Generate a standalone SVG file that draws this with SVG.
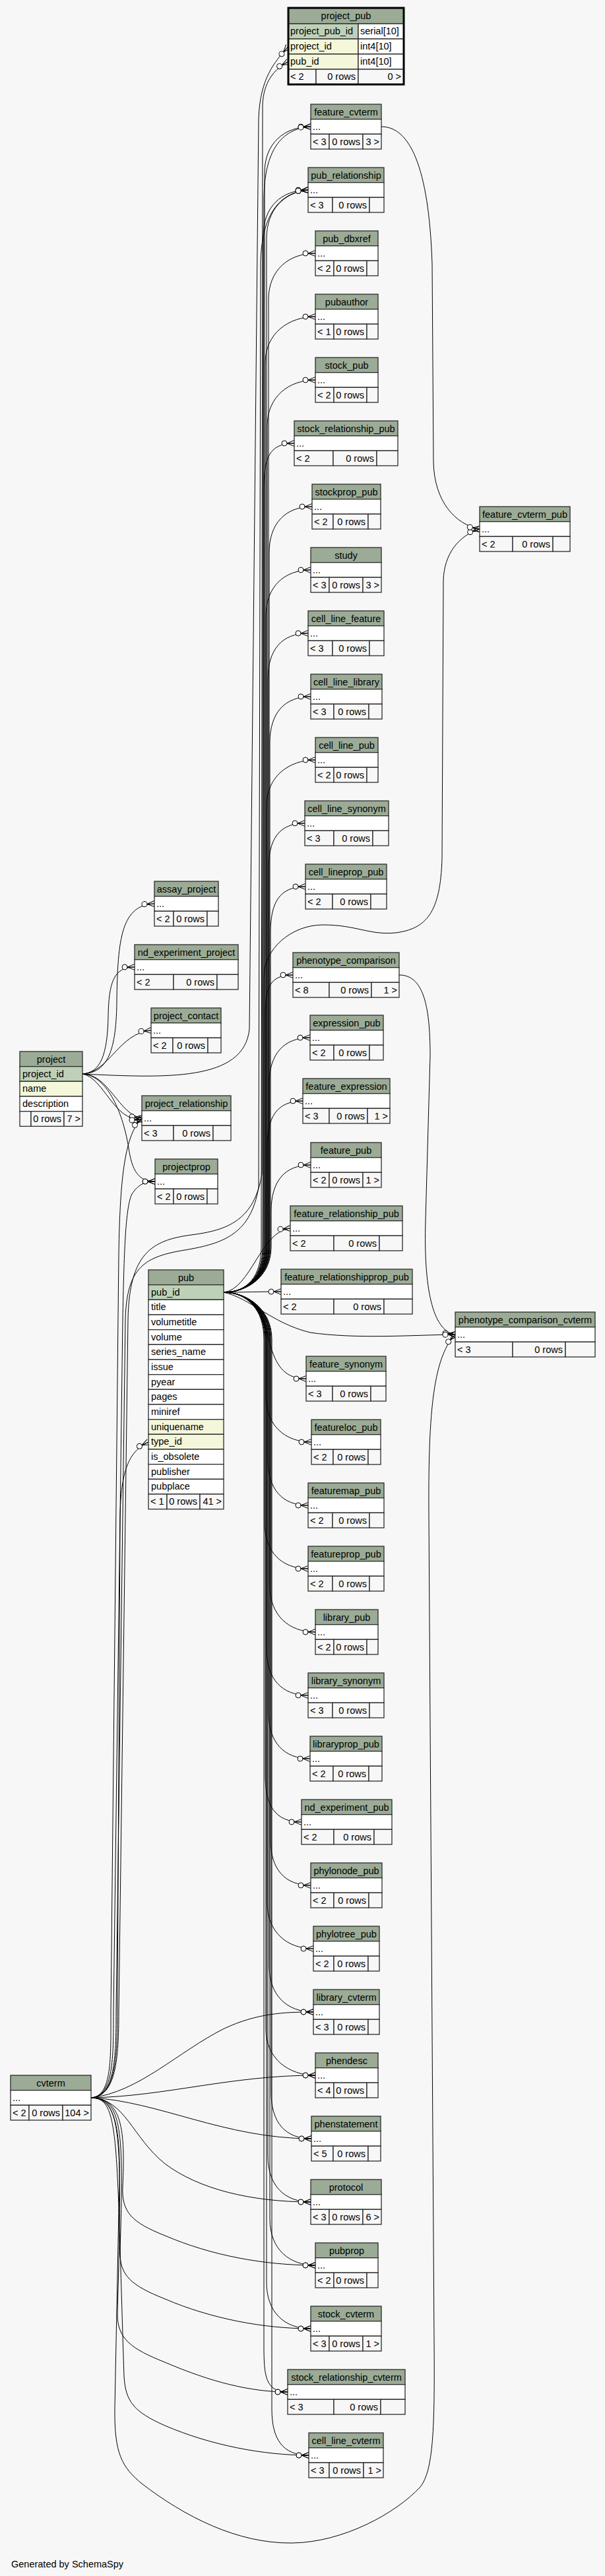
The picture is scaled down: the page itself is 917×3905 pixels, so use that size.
<svg xmlns="http://www.w3.org/2000/svg" width="917" height="3905" viewBox="0 0 917 3905">
<style>
.h{fill:#9bab96;stroke:#2b2b2b;stroke-width:1.3}
.r{fill:#fff;stroke:#2b2b2b;stroke-width:1.3}
.k{fill:#bed1b8;stroke:#2b2b2b;stroke-width:1.3}
.i{fill:#f4f7da;stroke:#2b2b2b;stroke-width:1.3}
.f{fill:#f7f7f7;stroke:#2b2b2b;stroke-width:1.3}
text{font-family:"Liberation Sans",Arial,Helvetica,sans-serif;font-size:14.5px;fill:#000}
.c{text-anchor:middle}
.e{text-anchor:end}
#connectors path{fill:none;stroke:#000;stroke-width:1;marker-end:url(#cf)}
</style>
<defs>
<marker id="cf" markerUnits="userSpaceOnUse" markerWidth="20" markerHeight="12" refX="20" refY="6" orient="auto" overflow="visible">
<path d="M9,6 L20,1.5 M9,6 L20,6 M9,6 L20,10.5" stroke="#000" stroke-width="1" fill="none"/>
<circle cx="5" cy="6" r="4" fill="#fff" stroke="#000" stroke-width="1"/>
</marker>
</defs>
<rect x="0" y="0" width="917" height="3905" fill="#f7f7f7"/>
<g id="connectors">
<path d="M339,1959 C375,1959 396,1935 396,1890 L398,160 C399,125 415,105 437,93.5"/>
<path d="M125,1628 C250,1634 370,1640 378,1560 L392,180 C394,120 415,95 437,70.5"/>
<path d="M339,1959 C375,1959 401,1935 401,1890 L401,262 C401,217 431,192 471,192"/>
<path d="M339,1959 C375,1959 399,1935 399,1890 L399,358 C399,313 427,288 467,288"/>
<path d="M339,1959 C375,1959 404,1935 404,1890 L404,362 C404,318 430,292 467,288"/>
<path d="M339,1959 C375,1959 407,1935 407,1890 L407,454 C407,409 438,384 478,384"/>
<path d="M339,1959 C375,1959 402,1935 402,1890 L402,550 C402,505 438,480 478,480"/>
<path d="M339,1959 C375,1959 405,1935 405,1890 L405,646 C405,601 438,576 478,576"/>
<path d="M339,1959 C375,1959 400,1935 400,1890 L400,742 C400,697 406,672 446,672"/>
<path d="M339,1959 C375,1959 408,1935 408,1890 L408,838 C408,793 433,768 473,768"/>
<path d="M339,1959 C375,1959 403,1935 403,1890 L403,934 C403,889 431,864 471,864"/>
<path d="M339,1959 C375,1959 406,1935 406,1890 L406,1030 C406,985 427,960 467,960"/>
<path d="M339,1959 C375,1959 409,1935 409,1890 L409,1126 C409,1081 431,1056 471,1056"/>
<path d="M339,1959 C375,1959 404,1935 404,1890 L404,1222 C404,1177 438,1152 478,1152"/>
<path d="M339,1959 C375,1959 407,1935 407,1890 L407,1318 C407,1273 422,1248 462,1248"/>
<path d="M339,1959 C375,1959 410,1935 410,1890 L410,1414 C410,1369 423,1344 463,1344"/>
<path d="M339,1959 C375,1959 402,1935 402,1890 L402,1548 C402,1503 404,1478 444,1478"/>
<path d="M339,1959 C375,1959 408,1935 408,1890 L408,1643 C408,1598 430,1573 470,1573"/>
<path d="M339,1959 C375,1959 405,1935 405,1890 L405,1739 C405,1694 419,1669 459,1669"/>
<path d="M339,1959 C375,1959 411,1935 411,1890 L411,1836 C411,1791 431,1766 471,1766"/>
<path d="M339,1959 C380,1955 395,1866 440,1862"/>
<path d="M339,1959 C370,1959 395,1958 426,1958"/>
<path d="M339,1959 C385,1959 400,2000 410,2040 C420,2075 435,2090 464,2090"/>
<path d="M339,1959 C375,1959 403,1985 403,2030 L403,2116 C403,2161 432,2186 472,2186"/>
<path d="M339,1959 C375,1959 406,1985 406,2030 L406,2212 C406,2257 427,2282 467,2282"/>
<path d="M339,1959 C375,1959 401,1985 401,2030 L401,2308 C401,2353 427,2378 467,2378"/>
<path d="M339,1959 C375,1959 409,1985 409,2030 L409,2404 C409,2449 438,2474 478,2474"/>
<path d="M339,1959 C375,1959 404,1985 404,2030 L404,2500 C404,2545 427,2570 467,2570"/>
<path d="M339,1959 C375,1959 407,1985 407,2030 L407,2596 C407,2641 430,2666 470,2666"/>
<path d="M339,1959 C375,1959 402,1985 402,2030 L402,2692 C402,2737 417,2762 457,2762"/>
<path d="M339,1959 C375,1959 410,1985 410,2030 L410,2788 C410,2833 431,2858 471,2858"/>
<path d="M339,1959 C375,1959 405,1985 405,2030 L405,2884 C405,2929 435,2954 475,2954"/>
<path d="M339,1959 C375,1959 408,1985 408,2030 L408,2980 C408,3025 435,3050 475,3050"/>
<path d="M339,1959 C375,1959 403,1985 403,2030 L403,3076 C403,3121 438,3146 478,3146"/>
<path d="M339,1959 C375,1959 411,1985 411,2030 L411,3172 C411,3217 432,3242 472,3242"/>
<path d="M339,1959 C375,1959 406,1985 406,2030 L406,3268 C406,3313 431,3338 471,3338"/>
<path d="M339,1959 C375,1959 409,1985 409,2030 L409,3364 C409,3409 438,3434 478,3434"/>
<path d="M339,1959 C375,1959 404,1985 404,2030 L404,3460 C404,3505 431,3530 471,3530"/>
<path d="M339,1959 C375,1959 400,1985 400,2030 L400,3556 C400,3601 402,3626 436,3626"/>
<path d="M339,1959 C375,1959 412,1985 412,2030 L412,3652 C412,3697 428,3722 468,3722"/>
<path d="M339,1959 C375,1959 398,1935 398,1890 L400,1480 C400,1440 440,1402 490,1402 C540,1402 560,1418 600,1414 C645,1408 668,1385 670,1300 L672,880 C673,840 695,812 727,802"/>
<path d="M578,192 C620,192 650,250 655,400 L657,700 C658,760 690,795 727,802"/>
<path d="M605,1478 C640,1478 652,1520 652,1600 L645,1850 C642,1950 655,2018 690,2023"/>
<path d="M339,1959 C380,1968 410,2005 470,2020 C540,2030 620,2024 690,2023"/>
<path d="M138,3180 C180,3180 184,3240 180,3350 L174,3650 C173,3720 185,3740 215,3765 C280,3815 360,3856 443,3855 C520,3854 600,3810 637,3770 C657,3745 659,3680 658,3550 L650,2300 C649,2150 655,2060 690,2023"/>
<path d="M138,3180 C210,3172 270,3110 340,3075 C390,3052 430,3050 475,3050"/>
<path d="M138,3180 C250,3178 350,3146 478,3146"/>
<path d="M138,3180 C240,3185 340,3242 472,3242"/>
<path d="M138,3180 C190,3182 200,3240 250,3280 C300,3318 380,3338 471,3338"/>
<path d="M138,3180 C185,3180 190,3230 186,3314 C184,3354 200,3369 250,3389 C320,3419 400,3434 478,3434"/>
<path d="M138,3180 C185,3180 188,3230 182,3410 C180,3450 200,3465 250,3485 C320,3515 400,3530 471,3530"/>
<path d="M138,3180 C183,3180 186,3230 178,3506 C177,3546 200,3561 250,3581 C320,3611 380,3626 436,3626"/>
<path d="M138,3180 C182,3180 176,3240 188,3602 C190,3642 205,3657 250,3677 C320,3707 400,3722 468,3722"/>
<path d="M138,3180 C175,3178 178,3120 178,3050 L182,2300 C183,2230 195,2200 225,2186"/>
<path d="M138,3180 C172,3178 172,3120 172,3050 L186,2000 C188,1900 190,1830 200,1810 C210,1795 220,1791 235,1791"/>
<path d="M138,3180 C170,3178 168,3120 168,3050 L180,1900 C182,1780 190,1720 215,1695"/>
<path d="M138,3180 C174,3178 176,3120 176,3050 L190,2000 C192,1920 220,1905 280,1895 C340,1885 380,1870 392,1800 L395,400 C396,330 420,292 467,288"/>
<path d="M138,3180 C176,3178 180,3120 180,3050 L194,2000 C196,1900 230,1880 290,1872 C345,1865 385,1850 397,1780 L400,300 C401,230 425,195 471,192"/>
<path d="M125,1628 C160,1626 176,1600 177,1520 C178,1420 185,1372 234,1370"/>
<path d="M125,1628 C152,1626 163,1600 164,1540 C165,1490 172,1466 204,1466"/>
<path d="M125,1628 C165,1626 180,1566 229,1562"/>
<path d="M125,1628 C165,1628 180,1690 215,1695"/>
<path d="M125,1628 C158,1634 172,1700 215,1697"/>
<path d="M125,1628 C160,1630 185,1680 195,1740 C200,1775 210,1791 235,1791"/>
</g>
<g id="project_pub">
<rect class="h" x="437" y="12" width="175" height="24"/><text class="c" x="524.5" y="29">project_pub</text>
<rect class="k" x="437" y="36" width="106" height="23"/><rect class="r" x="543" y="36" width="69" height="23"/>
<text x="440" y="52">project_pub_id</text><text x="546" y="52">serial[10]</text>
<rect class="i" x="437" y="59" width="106" height="23"/><rect class="r" x="543" y="59" width="69" height="23"/>
<text x="440" y="75">project_id</text><text x="546" y="75">int4[10]</text>
<rect class="i" x="437" y="82" width="106" height="23"/><rect class="r" x="543" y="82" width="69" height="23"/>
<text x="440" y="98">pub_id</text><text x="546" y="98">int4[10]</text>
<rect class="f" x="437" y="105" width="42" height="23"/><rect class="f" x="479" y="105" width="64" height="23"/><rect class="f" x="543" y="105" width="69" height="23"/>
<text x="440" y="121">&lt; 2</text><text class="e" x="539" y="121">0 rows</text><text class="e" x="608" y="121">0 &gt;</text>
<rect x="437" y="12" width="175" height="116" fill="none" stroke="#000" stroke-width="3"/>
</g>
<g id="feature_cvterm"><rect class="h" x="471" y="158" width="107" height="22.7"/><text class="c" x="524.5" y="174.5">feature_cvterm</text><rect class="r" x="471" y="180.7" width="107" height="22.6"/><text x="474" y="197">...</text><rect class="f" x="471" y="203.3" width="28" height="22.7"/><rect class="f" x="499" y="203.3" width="51" height="22.7"/><rect class="f" x="550" y="203.3" width="28" height="22.7"/><text x="474" y="220">&lt; 3</text><text class="e" x="546" y="220">0 rows</text><text class="e" x="575" y="220">3 &gt;</text></g>
<g id="pub_relationship"><rect class="h" x="467" y="254" width="115" height="22.7"/><text class="c" x="524.5" y="270.5">pub_relationship</text><rect class="r" x="467" y="276.7" width="115" height="22.6"/><text x="470" y="293">...</text><rect class="f" x="467" y="299.3" width="37" height="22.7"/><rect class="f" x="504" y="299.3" width="56" height="22.7"/><rect class="f" x="560" y="299.3" width="22" height="22.7"/><text x="470" y="316">&lt; 3</text><text class="e" x="556" y="316">0 rows</text></g>
<g id="pub_dbxref"><rect class="h" x="478" y="350" width="95" height="22.7"/><text class="c" x="525.5" y="366.5">pub_dbxref</text><rect class="r" x="478" y="372.7" width="95" height="22.6"/><text x="481" y="389">...</text><rect class="f" x="478" y="395.3" width="28" height="22.7"/><rect class="f" x="506" y="395.3" width="50" height="22.7"/><rect class="f" x="556" y="395.3" width="17" height="22.7"/><text x="481" y="412">&lt; 2</text><text class="e" x="552" y="412">0 rows</text></g>
<g id="pubauthor"><rect class="h" x="478" y="446" width="95" height="22.7"/><text class="c" x="525.5" y="462.5">pubauthor</text><rect class="r" x="478" y="468.7" width="95" height="22.6"/><text x="481" y="485">...</text><rect class="f" x="478" y="491.3" width="28" height="22.7"/><rect class="f" x="506" y="491.3" width="50" height="22.7"/><rect class="f" x="556" y="491.3" width="17" height="22.7"/><text x="481" y="508">&lt; 1</text><text class="e" x="552" y="508">0 rows</text></g>
<g id="stock_pub"><rect class="h" x="478" y="542" width="95" height="22.7"/><text class="c" x="525.5" y="558.5">stock_pub</text><rect class="r" x="478" y="564.7" width="95" height="22.6"/><text x="481" y="581">...</text><rect class="f" x="478" y="587.3" width="28" height="22.7"/><rect class="f" x="506" y="587.3" width="50" height="22.7"/><rect class="f" x="556" y="587.3" width="17" height="22.7"/><text x="481" y="604">&lt; 2</text><text class="e" x="552" y="604">0 rows</text></g>
<g id="stock_relationship_pub"><rect class="h" x="446" y="638" width="157" height="22.7"/><text class="c" x="524.5" y="654.5">stock_relationship_pub</text><rect class="r" x="446" y="660.7" width="157" height="22.6"/><text x="449" y="677">...</text><rect class="f" x="446" y="683.3" width="59" height="22.7"/><rect class="f" x="505" y="683.3" width="66" height="22.7"/><rect class="f" x="571" y="683.3" width="32" height="22.7"/><text x="449" y="700">&lt; 2</text><text class="e" x="567" y="700">0 rows</text></g>
<g id="stockprop_pub"><rect class="h" x="473" y="734" width="104" height="22.7"/><text class="c" x="525" y="750.5">stockprop_pub</text><rect class="r" x="473" y="756.7" width="104" height="22.6"/><text x="476" y="773">...</text><rect class="f" x="473" y="779.3" width="32" height="22.7"/><rect class="f" x="505" y="779.3" width="53" height="22.7"/><rect class="f" x="558" y="779.3" width="19" height="22.7"/><text x="476" y="796">&lt; 2</text><text class="e" x="554" y="796">0 rows</text></g>
<g id="study"><rect class="h" x="471" y="830" width="107" height="22.7"/><text class="c" x="524.5" y="846.5">study</text><rect class="r" x="471" y="852.7" width="107" height="22.6"/><text x="474" y="869">...</text><rect class="f" x="471" y="875.3" width="28" height="22.7"/><rect class="f" x="499" y="875.3" width="51" height="22.7"/><rect class="f" x="550" y="875.3" width="28" height="22.7"/><text x="474" y="892">&lt; 3</text><text class="e" x="546" y="892">0 rows</text><text class="e" x="575" y="892">3 &gt;</text></g>
<g id="cell_line_feature"><rect class="h" x="467" y="926" width="115" height="22.7"/><text class="c" x="524.5" y="942.5">cell_line_feature</text><rect class="r" x="467" y="948.7" width="115" height="22.6"/><text x="470" y="965">...</text><rect class="f" x="467" y="971.3" width="37" height="22.7"/><rect class="f" x="504" y="971.3" width="56" height="22.7"/><rect class="f" x="560" y="971.3" width="22" height="22.7"/><text x="470" y="988">&lt; 3</text><text class="e" x="556" y="988">0 rows</text></g>
<g id="cell_line_library"><rect class="h" x="471" y="1022" width="108" height="22.7"/><text class="c" x="525" y="1038.5">cell_line_library</text><rect class="r" x="471" y="1044.7" width="108" height="22.6"/><text x="474" y="1061">...</text><rect class="f" x="471" y="1067.3" width="35" height="22.7"/><rect class="f" x="506" y="1067.3" width="53" height="22.7"/><rect class="f" x="559" y="1067.3" width="20" height="22.7"/><text x="474" y="1084">&lt; 3</text><text class="e" x="555" y="1084">0 rows</text></g>
<g id="cell_line_pub"><rect class="h" x="478" y="1118" width="95" height="22.7"/><text class="c" x="525.5" y="1134.5">cell_line_pub</text><rect class="r" x="478" y="1140.7" width="95" height="22.6"/><text x="481" y="1157">...</text><rect class="f" x="478" y="1163.3" width="28" height="22.7"/><rect class="f" x="506" y="1163.3" width="50" height="22.7"/><rect class="f" x="556" y="1163.3" width="17" height="22.7"/><text x="481" y="1180">&lt; 2</text><text class="e" x="552" y="1180">0 rows</text></g>
<g id="cell_line_synonym"><rect class="h" x="462" y="1214" width="127" height="22.7"/><text class="c" x="525.5" y="1230.5">cell_line_synonym</text><rect class="r" x="462" y="1236.7" width="127" height="22.6"/><text x="465" y="1253">...</text><rect class="f" x="462" y="1259.3" width="44" height="22.7"/><rect class="f" x="506" y="1259.3" width="59" height="22.7"/><rect class="f" x="565" y="1259.3" width="24" height="22.7"/><text x="465" y="1276">&lt; 3</text><text class="e" x="561" y="1276">0 rows</text></g>
<g id="cell_lineprop_pub"><rect class="h" x="463" y="1310" width="123" height="22.7"/><text class="c" x="524.5" y="1326.5">cell_lineprop_pub</text><rect class="r" x="463" y="1332.7" width="123" height="22.6"/><text x="466" y="1349">...</text><rect class="f" x="463" y="1355.3" width="41" height="22.7"/><rect class="f" x="504" y="1355.3" width="58" height="22.7"/><rect class="f" x="562" y="1355.3" width="24" height="22.7"/><text x="466" y="1372">&lt; 2</text><text class="e" x="558" y="1372">0 rows</text></g>
<g id="phenotype_comparison"><rect class="h" x="444" y="1444" width="161" height="22.7"/><text class="c" x="524.5" y="1460.5">phenotype_comparison</text><rect class="r" x="444" y="1466.7" width="161" height="22.6"/><text x="447" y="1483">...</text><rect class="f" x="444" y="1489.3" width="55" height="22.7"/><rect class="f" x="499" y="1489.3" width="64" height="22.7"/><rect class="f" x="563" y="1489.3" width="42" height="22.7"/><text x="447" y="1506">&lt; 8</text><text class="e" x="559" y="1506">0 rows</text><text class="e" x="602" y="1506">1 &gt;</text></g>
<g id="expression_pub"><rect class="h" x="470" y="1539" width="111" height="22.7"/><text class="c" x="525.5" y="1555.5">expression_pub</text><rect class="r" x="470" y="1561.7" width="111" height="22.6"/><text x="473" y="1578">...</text><rect class="f" x="470" y="1584.3" width="36" height="22.7"/><rect class="f" x="506" y="1584.3" width="54" height="22.7"/><rect class="f" x="560" y="1584.3" width="21" height="22.7"/><text x="473" y="1601">&lt; 2</text><text class="e" x="556" y="1601">0 rows</text></g>
<g id="feature_expression"><rect class="h" x="459" y="1635" width="132" height="22.7"/><text class="c" x="525" y="1651.5">feature_expression</text><rect class="r" x="459" y="1657.7" width="132" height="22.6"/><text x="462" y="1674">...</text><rect class="f" x="459" y="1680.3" width="40" height="22.7"/><rect class="f" x="499" y="1680.3" width="58" height="22.7"/><rect class="f" x="557" y="1680.3" width="34" height="22.7"/><text x="462" y="1697">&lt; 3</text><text class="e" x="553" y="1697">0 rows</text><text class="e" x="588" y="1697">1 &gt;</text></g>
<g id="feature_pub"><rect class="h" x="471" y="1732" width="107" height="22.7"/><text class="c" x="524.5" y="1748.5">feature_pub</text><rect class="r" x="471" y="1754.7" width="107" height="22.6"/><text x="474" y="1771">...</text><rect class="f" x="471" y="1777.3" width="28" height="22.7"/><rect class="f" x="499" y="1777.3" width="51" height="22.7"/><rect class="f" x="550" y="1777.3" width="28" height="22.7"/><text x="474" y="1794">&lt; 2</text><text class="e" x="546" y="1794">0 rows</text><text class="e" x="575" y="1794">1 &gt;</text></g>
<g id="feature_relationship_pub"><rect class="h" x="440" y="1828" width="170" height="22.7"/><text class="c" x="525" y="1844.5">feature_relationship_pub</text><rect class="r" x="440" y="1850.7" width="170" height="22.6"/><text x="443" y="1867">...</text><rect class="f" x="440" y="1873.3" width="66" height="22.7"/><rect class="f" x="506" y="1873.3" width="69" height="22.7"/><rect class="f" x="575" y="1873.3" width="35" height="22.7"/><text x="443" y="1890">&lt; 2</text><text class="e" x="571" y="1890">0 rows</text></g>
<g id="feature_relationshipprop_pub"><rect class="h" x="426" y="1924" width="199" height="22.7"/><text class="c" x="525.5" y="1940.5">feature_relationshipprop_pub</text><rect class="r" x="426" y="1946.7" width="199" height="22.6"/><text x="429" y="1963">...</text><rect class="f" x="426" y="1969.3" width="80" height="22.7"/><rect class="f" x="506" y="1969.3" width="76" height="22.7"/><rect class="f" x="582" y="1969.3" width="43" height="22.7"/><text x="429" y="1986">&lt; 2</text><text class="e" x="578" y="1986">0 rows</text></g>
<g id="feature_synonym"><rect class="h" x="464" y="2056" width="121" height="22.7"/><text class="c" x="524.5" y="2072.5">feature_synonym</text><rect class="r" x="464" y="2078.7" width="121" height="22.6"/><text x="467" y="2095">...</text><rect class="f" x="464" y="2101.3" width="40" height="22.7"/><rect class="f" x="504" y="2101.3" width="58" height="22.7"/><rect class="f" x="562" y="2101.3" width="23" height="22.7"/><text x="467" y="2118">&lt; 3</text><text class="e" x="558" y="2118">0 rows</text></g>
<g id="featureloc_pub"><rect class="h" x="472" y="2152" width="105" height="22.7"/><text class="c" x="524.5" y="2168.5">featureloc_pub</text><rect class="r" x="472" y="2174.7" width="105" height="22.6"/><text x="475" y="2191">...</text><rect class="f" x="472" y="2197.3" width="33" height="22.7"/><rect class="f" x="505" y="2197.3" width="53" height="22.7"/><rect class="f" x="558" y="2197.3" width="19" height="22.7"/><text x="475" y="2214">&lt; 2</text><text class="e" x="554" y="2214">0 rows</text></g>
<g id="featuremap_pub"><rect class="h" x="467" y="2248" width="115" height="22.7"/><text class="c" x="524.5" y="2264.5">featuremap_pub</text><rect class="r" x="467" y="2270.7" width="115" height="22.6"/><text x="470" y="2287">...</text><rect class="f" x="467" y="2293.3" width="37" height="22.7"/><rect class="f" x="504" y="2293.3" width="56" height="22.7"/><rect class="f" x="560" y="2293.3" width="22" height="22.7"/><text x="470" y="2310">&lt; 2</text><text class="e" x="556" y="2310">0 rows</text></g>
<g id="featureprop_pub"><rect class="h" x="467" y="2344" width="115" height="22.7"/><text class="c" x="524.5" y="2360.5">featureprop_pub</text><rect class="r" x="467" y="2366.7" width="115" height="22.6"/><text x="470" y="2383">...</text><rect class="f" x="467" y="2389.3" width="37" height="22.7"/><rect class="f" x="504" y="2389.3" width="56" height="22.7"/><rect class="f" x="560" y="2389.3" width="22" height="22.7"/><text x="470" y="2406">&lt; 2</text><text class="e" x="556" y="2406">0 rows</text></g>
<g id="library_pub"><rect class="h" x="478" y="2440" width="95" height="22.7"/><text class="c" x="525.5" y="2456.5">library_pub</text><rect class="r" x="478" y="2462.7" width="95" height="22.6"/><text x="481" y="2479">...</text><rect class="f" x="478" y="2485.3" width="28" height="22.7"/><rect class="f" x="506" y="2485.3" width="50" height="22.7"/><rect class="f" x="556" y="2485.3" width="17" height="22.7"/><text x="481" y="2502">&lt; 2</text><text class="e" x="552" y="2502">0 rows</text></g>
<g id="library_synonym"><rect class="h" x="467" y="2536" width="115" height="22.7"/><text class="c" x="524.5" y="2552.5">library_synonym</text><rect class="r" x="467" y="2558.7" width="115" height="22.6"/><text x="470" y="2575">...</text><rect class="f" x="467" y="2581.3" width="37" height="22.7"/><rect class="f" x="504" y="2581.3" width="56" height="22.7"/><rect class="f" x="560" y="2581.3" width="22" height="22.7"/><text x="470" y="2598">&lt; 3</text><text class="e" x="556" y="2598">0 rows</text></g>
<g id="libraryprop_pub"><rect class="h" x="470" y="2632" width="109" height="22.7"/><text class="c" x="524.5" y="2648.5">libraryprop_pub</text><rect class="r" x="470" y="2654.7" width="109" height="22.6"/><text x="473" y="2671">...</text><rect class="f" x="470" y="2677.3" width="35" height="22.7"/><rect class="f" x="505" y="2677.3" width="54" height="22.7"/><rect class="f" x="559" y="2677.3" width="20" height="22.7"/><text x="473" y="2694">&lt; 2</text><text class="e" x="555" y="2694">0 rows</text></g>
<g id="nd_experiment_pub"><rect class="h" x="457" y="2728" width="137" height="22.7"/><text class="c" x="525.5" y="2744.5">nd_experiment_pub</text><rect class="r" x="457" y="2750.7" width="137" height="22.6"/><text x="460" y="2767">...</text><rect class="f" x="457" y="2773.3" width="49" height="22.7"/><rect class="f" x="506" y="2773.3" width="61" height="22.7"/><rect class="f" x="567" y="2773.3" width="27" height="22.7"/><text x="460" y="2790">&lt; 2</text><text class="e" x="563" y="2790">0 rows</text></g>
<g id="phylonode_pub"><rect class="h" x="471" y="2824" width="108" height="22.7"/><text class="c" x="525" y="2840.5">phylonode_pub</text><rect class="r" x="471" y="2846.7" width="108" height="22.6"/><text x="474" y="2863">...</text><rect class="f" x="471" y="2869.3" width="35" height="22.7"/><rect class="f" x="506" y="2869.3" width="53" height="22.7"/><rect class="f" x="559" y="2869.3" width="20" height="22.7"/><text x="474" y="2886">&lt; 2</text><text class="e" x="555" y="2886">0 rows</text></g>
<g id="phylotree_pub"><rect class="h" x="475" y="2920" width="100" height="22.7"/><text class="c" x="525" y="2936.5">phylotree_pub</text><rect class="r" x="475" y="2942.7" width="100" height="22.6"/><text x="478" y="2959">...</text><rect class="f" x="475" y="2965.3" width="31" height="22.7"/><rect class="f" x="506" y="2965.3" width="52" height="22.7"/><rect class="f" x="558" y="2965.3" width="17" height="22.7"/><text x="478" y="2982">&lt; 2</text><text class="e" x="554" y="2982">0 rows</text></g>
<g id="library_cvterm"><rect class="h" x="475" y="3016" width="100" height="22.7"/><text class="c" x="525" y="3032.5">library_cvterm</text><rect class="r" x="475" y="3038.7" width="100" height="22.6"/><text x="478" y="3055">...</text><rect class="f" x="475" y="3061.3" width="31" height="22.7"/><rect class="f" x="506" y="3061.3" width="52" height="22.7"/><rect class="f" x="558" y="3061.3" width="17" height="22.7"/><text x="478" y="3078">&lt; 3</text><text class="e" x="554" y="3078">0 rows</text></g>
<g id="phendesc"><rect class="h" x="478" y="3112" width="95" height="22.7"/><text class="c" x="525.5" y="3128.5">phendesc</text><rect class="r" x="478" y="3134.7" width="95" height="22.6"/><text x="481" y="3151">...</text><rect class="f" x="478" y="3157.3" width="28" height="22.7"/><rect class="f" x="506" y="3157.3" width="50" height="22.7"/><rect class="f" x="556" y="3157.3" width="17" height="22.7"/><text x="481" y="3174">&lt; 4</text><text class="e" x="552" y="3174">0 rows</text></g>
<g id="phenstatement"><rect class="h" x="472" y="3208" width="105" height="22.7"/><text class="c" x="524.5" y="3224.5">phenstatement</text><rect class="r" x="472" y="3230.7" width="105" height="22.6"/><text x="475" y="3247">...</text><rect class="f" x="472" y="3253.3" width="33" height="22.7"/><rect class="f" x="505" y="3253.3" width="53" height="22.7"/><rect class="f" x="558" y="3253.3" width="19" height="22.7"/><text x="475" y="3270">&lt; 5</text><text class="e" x="554" y="3270">0 rows</text></g>
<g id="protocol"><rect class="h" x="471" y="3304" width="107" height="22.7"/><text class="c" x="524.5" y="3320.5">protocol</text><rect class="r" x="471" y="3326.7" width="107" height="22.6"/><text x="474" y="3343">...</text><rect class="f" x="471" y="3349.3" width="28" height="22.7"/><rect class="f" x="499" y="3349.3" width="51" height="22.7"/><rect class="f" x="550" y="3349.3" width="28" height="22.7"/><text x="474" y="3366">&lt; 3</text><text class="e" x="546" y="3366">0 rows</text><text class="e" x="575" y="3366">6 &gt;</text></g>
<g id="pubprop"><rect class="h" x="478" y="3400" width="95" height="22.7"/><text class="c" x="525.5" y="3416.5">pubprop</text><rect class="r" x="478" y="3422.7" width="95" height="22.6"/><text x="481" y="3439">...</text><rect class="f" x="478" y="3445.3" width="28" height="22.7"/><rect class="f" x="506" y="3445.3" width="50" height="22.7"/><rect class="f" x="556" y="3445.3" width="17" height="22.7"/><text x="481" y="3462">&lt; 2</text><text class="e" x="552" y="3462">0 rows</text></g>
<g id="stock_cvterm"><rect class="h" x="471" y="3496" width="107" height="22.7"/><text class="c" x="524.5" y="3512.5">stock_cvterm</text><rect class="r" x="471" y="3518.7" width="107" height="22.6"/><text x="474" y="3535">...</text><rect class="f" x="471" y="3541.3" width="28" height="22.7"/><rect class="f" x="499" y="3541.3" width="51" height="22.7"/><rect class="f" x="550" y="3541.3" width="28" height="22.7"/><text x="474" y="3558">&lt; 3</text><text class="e" x="546" y="3558">0 rows</text><text class="e" x="575" y="3558">1 &gt;</text></g>
<g id="stock_relationship_cvterm"><rect class="h" x="436" y="3592" width="178" height="22.7"/><text class="c" x="525" y="3608.5">stock_relationship_cvterm</text><rect class="r" x="436" y="3614.7" width="178" height="22.6"/><text x="439" y="3631">...</text><rect class="f" x="436" y="3637.3" width="70" height="22.7"/><rect class="f" x="506" y="3637.3" width="71" height="22.7"/><rect class="f" x="577" y="3637.3" width="37" height="22.7"/><text x="439" y="3654">&lt; 3</text><text class="e" x="573" y="3654">0 rows</text></g>
<g id="cell_line_cvterm"><rect class="h" x="468" y="3688" width="113" height="22.7"/><text class="c" x="524.5" y="3704.5">cell_line_cvterm</text><rect class="r" x="468" y="3710.7" width="113" height="22.6"/><text x="471" y="3727">...</text><rect class="f" x="468" y="3733.3" width="31" height="22.7"/><rect class="f" x="499" y="3733.3" width="52" height="22.7"/><rect class="f" x="551" y="3733.3" width="30" height="22.7"/><text x="471" y="3750">&lt; 3</text><text class="e" x="547" y="3750">0 rows</text><text class="e" x="578" y="3750">1 &gt;</text></g>
<g id="assay_project"><rect class="h" x="234" y="1336" width="97" height="22.7"/><text class="c" x="282.5" y="1352.5">assay_project</text><rect class="r" x="234" y="1358.7" width="97" height="22.6"/><text x="237" y="1375">...</text><rect class="f" x="234" y="1381.3" width="29" height="22.7"/><rect class="f" x="263" y="1381.3" width="51" height="22.7"/><rect class="f" x="314" y="1381.3" width="17" height="22.7"/><text x="237" y="1398">&lt; 2</text><text class="e" x="310" y="1398">0 rows</text></g>
<g id="nd_experiment_project"><rect class="h" x="204" y="1432" width="157" height="22.7"/><text class="c" x="282.5" y="1448.5">nd_experiment_project</text><rect class="r" x="204" y="1454.7" width="157" height="22.6"/><text x="207" y="1471">...</text><rect class="f" x="204" y="1477.3" width="59" height="22.7"/><rect class="f" x="263" y="1477.3" width="66" height="22.7"/><rect class="f" x="329" y="1477.3" width="32" height="22.7"/><text x="207" y="1494">&lt; 2</text><text class="e" x="325" y="1494">0 rows</text></g>
<g id="project_contact"><rect class="h" x="229" y="1528" width="106" height="22.7"/><text class="c" x="282" y="1544.5">project_contact</text><rect class="r" x="229" y="1550.7" width="106" height="22.6"/><text x="232" y="1567">...</text><rect class="f" x="229" y="1573.3" width="33" height="22.7"/><rect class="f" x="262" y="1573.3" width="53" height="22.7"/><rect class="f" x="315" y="1573.3" width="20" height="22.7"/><text x="232" y="1590">&lt; 2</text><text class="e" x="311" y="1590">0 rows</text></g>
<g id="project_relationship"><rect class="h" x="215" y="1661" width="135" height="22.7"/><text class="c" x="282.5" y="1677.5">project_relationship</text><rect class="r" x="215" y="1683.7" width="135" height="22.6"/><text x="218" y="1700">...</text><rect class="f" x="215" y="1706.3" width="48" height="22.7"/><rect class="f" x="263" y="1706.3" width="60" height="22.7"/><rect class="f" x="323" y="1706.3" width="27" height="22.7"/><text x="218" y="1723">&lt; 3</text><text class="e" x="319" y="1723">0 rows</text></g>
<g id="projectprop"><rect class="h" x="235" y="1757" width="95" height="22.7"/><text class="c" x="282.5" y="1773.5">projectprop</text><rect class="r" x="235" y="1779.7" width="95" height="22.6"/><text x="238" y="1796">...</text><rect class="f" x="235" y="1802.3" width="28" height="22.7"/><rect class="f" x="263" y="1802.3" width="51" height="22.7"/><rect class="f" x="314" y="1802.3" width="16" height="22.7"/><text x="238" y="1819">&lt; 2</text><text class="e" x="310" y="1819">0 rows</text></g>
<g id="feature_cvterm_pub"><rect class="h" x="727" y="768" width="137" height="22.7"/><text class="c" x="795.5" y="784.5">feature_cvterm_pub</text><rect class="r" x="727" y="790.7" width="137" height="22.6"/><text x="730" y="807">...</text><rect class="f" x="727" y="813.3" width="50" height="22.7"/><rect class="f" x="777" y="813.3" width="61" height="22.7"/><rect class="f" x="838" y="813.3" width="26" height="22.7"/><text x="730" y="830">&lt; 2</text><text class="e" x="834" y="830">0 rows</text></g>
<g id="phenotype_comparison_cvterm"><rect class="h" x="690" y="1989" width="212" height="22.7"/><text class="c" x="796" y="2005.5">phenotype_comparison_cvterm</text><rect class="r" x="690" y="2011.7" width="212" height="22.6"/><text x="693" y="2028">...</text><rect class="f" x="690" y="2034.3" width="87" height="22.7"/><rect class="f" x="777" y="2034.3" width="80" height="22.7"/><rect class="f" x="857" y="2034.3" width="45" height="22.7"/><text x="693" y="2051">&lt; 3</text><text class="e" x="853" y="2051">0 rows</text></g>
<g id="cvterm"><rect class="h" x="16" y="3146" width="122" height="22.7"/><text class="c" x="77" y="3162.5">cvterm</text><rect class="r" x="16" y="3168.7" width="122" height="22.6"/><text x="19" y="3185">...</text><rect class="f" x="16" y="3191.3" width="28" height="22.7"/><rect class="f" x="44" y="3191.3" width="51" height="22.7"/><rect class="f" x="95" y="3191.3" width="43" height="22.7"/><text x="19" y="3208">&lt; 2</text><text class="e" x="91" y="3208">0 rows</text><text class="e" x="135" y="3208">104 &gt;</text></g>
<g id="project">
<rect class="h" x="30" y="1594" width="95" height="22.7"/><text class="c" x="77.5" y="1610.5">project</text>
<rect class="k" x="30" y="1616.7" width="95" height="22.6"/><text x="34" y="1632.7">project_id</text>
<rect class="i" x="30" y="1639.3" width="95" height="22.7"/><text x="34" y="1655.3">name</text>
<rect class="r" x="30" y="1662" width="95" height="22.7"/><text x="34" y="1678">description</text>
<rect class="f" x="30" y="1684.7" width="17" height="22.7"/><rect class="f" x="47" y="1684.7" width="50" height="22.7"/><rect class="f" x="97" y="1684.7" width="28" height="22.7"/>
<text class="e" x="93" y="1700.7">0 rows</text><text class="e" x="122" y="1700.7">7 &gt;</text>
</g>
<g id="pub">
<rect class="h" x="225" y="1925" width="114" height="22.7"/><text class="c" x="282" y="1941.5">pub</text>
<rect class="k" x="225" y="1947.7" width="114" height="22.6"/><text x="229" y="1963.7">pub_id</text>
<rect class="r" x="225" y="1970.3" width="114" height="22.7"/><text x="229" y="1986.3">title</text>
<rect class="r" x="225" y="1993" width="114" height="22.7"/><text x="229" y="2009">volumetitle</text>
<rect class="r" x="225" y="2015.7" width="114" height="22.6"/><text x="229" y="2031.7">volume</text>
<rect class="r" x="225" y="2038.3" width="114" height="22.7"/><text x="229" y="2054.3">series_name</text>
<rect class="r" x="225" y="2061" width="114" height="22.7"/><text x="229" y="2077">issue</text>
<rect class="r" x="225" y="2083.7" width="114" height="22.6"/><text x="229" y="2099.7">pyear</text>
<rect class="r" x="225" y="2106.3" width="114" height="22.7"/><text x="229" y="2122.3">pages</text>
<rect class="r" x="225" y="2129" width="114" height="22.7"/><text x="229" y="2145">miniref</text>
<rect class="i" x="225" y="2151.7" width="114" height="22.6"/><text x="229" y="2167.7">uniquename</text>
<rect class="i" x="225" y="2174.3" width="114" height="22.7"/><text x="229" y="2190.3">type_id</text>
<rect class="r" x="225" y="2197" width="114" height="22.7"/><text x="229" y="2213">is_obsolete</text>
<rect class="r" x="225" y="2219.7" width="114" height="22.6"/><text x="229" y="2235.7">publisher</text>
<rect class="r" x="225" y="2242.3" width="114" height="22.7"/><text x="229" y="2258.3">pubplace</text>
<rect class="f" x="225" y="2265" width="28" height="22.7"/><rect class="f" x="253" y="2265" width="50" height="22.7"/><rect class="f" x="303" y="2265" width="36" height="22.7"/>
<text x="228" y="2281">&lt; 1</text><text class="e" x="299" y="2281">0 rows</text><text class="e" x="336" y="2281">41 &gt;</text>
</g>
<text x="17" y="3892">Generated by SchemaSpy</text>
</svg>
